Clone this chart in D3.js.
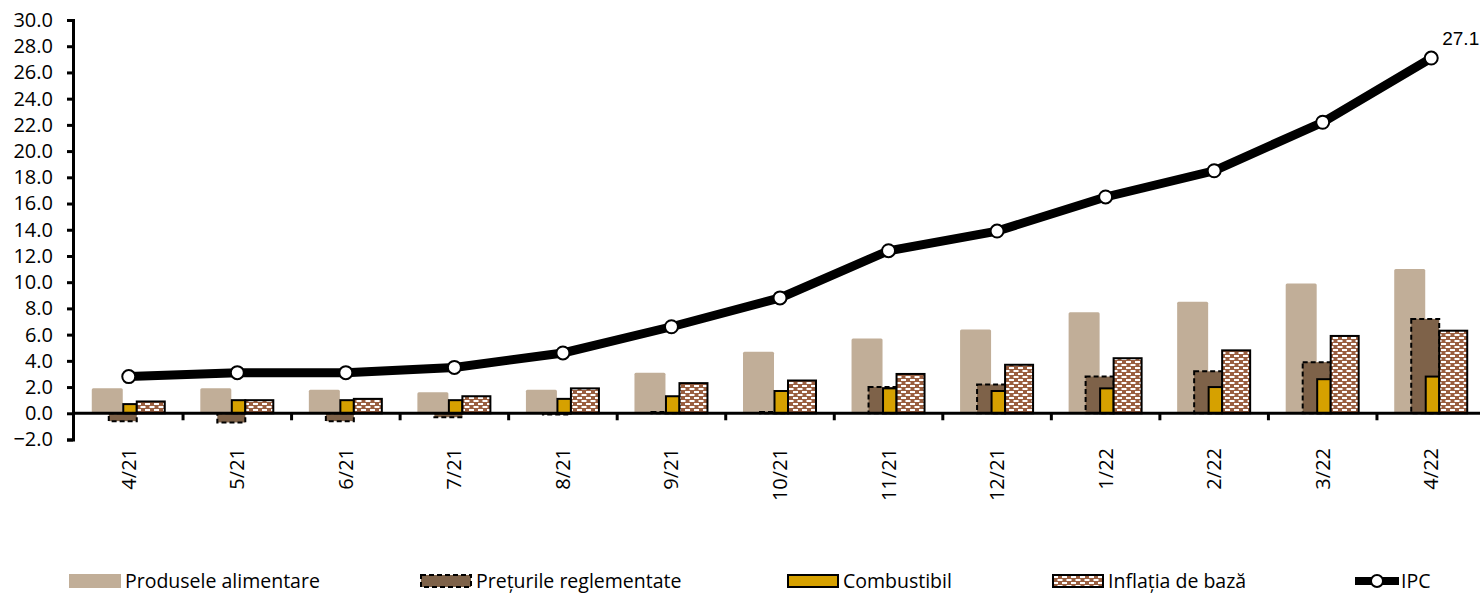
<!DOCTYPE html>
<meta charset="utf-8">
<style>
  body { margin: 0; background: #fff; }
  svg text { font-family: 'Open Sans', sans-serif; }
</style>

<!-- Load d3.js -->
<script src="https://d3js.org/d3.v7.min.js"></script>

<div id="my_dataviz"></div>

<script>

// data (annual % contributions)
var months = ["4/21","5/21","6/21","7/21","8/21","9/21","10/21","11/21","12/21","1/22","2/22","3/22","4/22"];
var food      = [1.9, 1.9, 1.8, 1.6, 1.8, 3.1, 4.7, 5.7, 6.4, 7.7, 8.5, 9.9, 11.0];
var regulated = [-0.6, -0.7, -0.6, -0.3, -0.1, 0.1, 0.1, 2.0, 2.2, 2.8, 3.2, 3.9, 7.2];
var fuel      = [0.7, 1.0, 1.0, 1.0, 1.1, 1.3, 1.7, 1.9, 1.7, 1.9, 2.0, 2.6, 2.8];
var core      = [0.9, 1.0, 1.1, 1.3, 1.9, 2.3, 2.5, 3.0, 3.7, 4.2, 4.8, 5.9, 6.3];
var ipc       = [2.8, 3.1, 3.1, 3.5, 4.6, 6.6, 8.8, 12.4, 13.9, 16.5, 18.5, 22.2, 27.1];
var yTicks = d3.range(-2, 30.1, 2);
var legendNames = ["Produsele alimentare", "Prețurile reglementate", "Combustibil", "Inflația de bază", "IPC"];

var width = 1480, height = 593;

var svg = d3.select("#my_dataviz")
  .append("svg")
    .attr("width", width)
    .attr("height", height);

// brick pattern for core inflation
var defs = svg.append("defs");
var pat = defs.append("pattern")
    .attr("id", "brick")
    .attr("patternUnits", "userSpaceOnUse")
    .attr("width", 9)
    .attr("height", 6);
pat.append("rect").attr("width", 9).attr("height", 6).attr("fill", "#9a5f40");
pat.append("rect").attr("x", 1).attr("y", 1).attr("width", 5).attr("height", 2).attr("fill", "#fff");
pat.append("rect").attr("x", 5.5).attr("y", 4).attr("width", 3.5).attr("height", 2).attr("fill", "#fff");
pat.append("rect").attr("x", 0).attr("y", 4).attr("width", 1.5).attr("height", 2).attr("fill", "#fff");

// scales
var x = d3.scaleBand()
  .domain(months)
  .range([74.5, 1485.5]);
var y = d3.scaleLinear()
  .domain([-2, 30])
  .range([439.5, 20]);

function cx(i) { return x(months[i]) + x.bandwidth() / 2; }

// bars: food (behind), regulated, fuel, core
svg.append("g").selectAll("rect")
  .data(food)
  .enter().append("rect")
    .attr("x", function(d, i) { return cx(i) - 37; })
    .attr("width", 31)
    .attr("y", function(d) { return y(Math.max(d, 0)); })
    .attr("height", function(d) { return Math.abs(y(d) - y(0)); })
    .attr("rx", 1.5)
    .attr("fill", "#c1ae98");

svg.append("g").selectAll("rect")
  .data(regulated)
  .enter().append("rect")
    .attr("x", function(d, i) { return cx(i) - 20; })
    .attr("width", 28)
    .attr("y", function(d) { return y(Math.max(d, 0)); })
    .attr("height", function(d) { return Math.abs(y(d) - y(0)); })
    .attr("fill", "#7e6249")
    .attr("stroke", "#000")
    .attr("stroke-width", 2)
    .attr("stroke-dasharray", "5,3");

svg.append("g").selectAll("rect")
  .data(fuel)
  .enter().append("rect")
    .attr("x", function(d, i) { return cx(i) - 5.5; })
    .attr("width", 13.5)
    .attr("y", function(d) { return y(d); })
    .attr("height", function(d) { return y(0) - y(d); })
    .attr("fill", "#d6a100")
    .attr("stroke", "#000")
    .attr("stroke-width", 2);

svg.append("g").selectAll("rect")
  .data(core)
  .enter().append("rect")
    .attr("x", function(d, i) { return cx(i) + 8; })
    .attr("width", 28)
    .attr("y", function(d) { return y(d); })
    .attr("height", function(d) { return y(0) - y(d); })
    .attr("fill", "url(#brick)")
    .attr("stroke", "#000")
    .attr("stroke-width", 2);

// y axis
var yAxis = svg.append("g")
  .attr("transform", "translate(73,0)")
  .call(d3.axisLeft(y).tickValues(yTicks).tickSize(6).tickPadding(14).tickFormat(d3.format(".1f")));
yAxis.select(".domain").attr("stroke-width", 3);
yAxis.selectAll(".tick line").attr("stroke-width", 3);
yAxis.selectAll("text").style("font-size", "20px").attr("fill", "#000");

// x axis at zero, ticks between months
var xAxis = svg.append("g")
  .attr("transform", "translate(0," + y(0) + ")");
xAxis.append("line")
  .attr("x1", 73).attr("x2", width)
  .attr("stroke", "#000").attr("stroke-width", 3);
xAxis.selectAll(".sep")
  .data(months.slice(1))
  .enter().append("line")
    .attr("x1", function(d) { return x(d); })
    .attr("x2", function(d) { return x(d); })
    .attr("y1", 0).attr("y2", 7)
    .attr("stroke", "#000").attr("stroke-width", 3);

svg.append("g").selectAll("text")
  .data(months)
  .enter().append("text")
    .attr("transform", function(d, i) { return "translate(" + cx(i) + ",448) rotate(-90)"; })
    .attr("dy", "0.35em")
    .attr("text-anchor", "end")
    .style("font-size", "20px")
    .text(function(d) { return d; });

// IPC line
var line = d3.line()
  .x(function(d, i) { return cx(i); })
  .y(function(d) { return y(d); });
svg.append("path")
  .datum(ipc)
  .attr("d", line)
  .attr("fill", "none")
  .attr("stroke", "#000")
  .attr("stroke-width", 9);
svg.append("g").selectAll("circle")
  .data(ipc)
  .enter().append("circle")
    .attr("cx", function(d, i) { return cx(i); })
    .attr("cy", function(d) { return y(d); })
    .attr("r", 6.5)
    .attr("fill", "#fff")
    .attr("stroke", "#000")
    .attr("stroke-width", 2);

// last value label
var last = ipc.length - 1;
svg.append("text")
  .attr("x", cx(last) + 11)
  .attr("y", y(ipc[last]) - 13)
  .style("font-family", "'Liberation Sans', Arial, sans-serif")
  .style("font-size", "19px")
  .text(ipc[last].toFixed(1));

// legend
var legendX = [69, 420, 787, 1052, 1355];
var lg = svg.append("g").attr("transform", "translate(0,581)");
legendNames.forEach(function(name, i) {
  var g = lg.append("g").attr("transform", "translate(" + legendX[i] + ",0)");
  if (i === 0) {
    g.append("rect").attr("x", 0).attr("y", -7).attr("width", 52).attr("height", 14).attr("fill", "#c1ae98");
  } else if (i === 1) {
    g.append("rect").attr("x", 1).attr("y", -6).attr("width", 50).attr("height", 12)
      .attr("fill", "#7e6249").attr("stroke", "#000").attr("stroke-width", 2).attr("stroke-dasharray", "5,3");
  } else if (i === 2) {
    g.append("rect").attr("x", 1).attr("y", -6).attr("width", 50).attr("height", 12)
      .attr("fill", "#d6a100").attr("stroke", "#000").attr("stroke-width", 2);
  } else if (i === 3) {
    g.append("rect").attr("x", 1).attr("y", -6).attr("width", 50).attr("height", 12)
      .attr("fill", "url(#brick)").attr("stroke", "#000").attr("stroke-width", 2);
  } else {
    g.append("line").attr("x1", 0).attr("x2", 44).attr("stroke", "#000").attr("stroke-width", 8);
    g.append("circle").attr("cx", 22).attr("r", 6).attr("fill", "#fff").attr("stroke", "#000").attr("stroke-width", 2);
  }
  g.append("text")
    .attr("x", i === 4 ? 46 : 56)
    .attr("dy", "0.35em")
    .style("font-size", "19.5px")
    .text(name);
});

</script>
